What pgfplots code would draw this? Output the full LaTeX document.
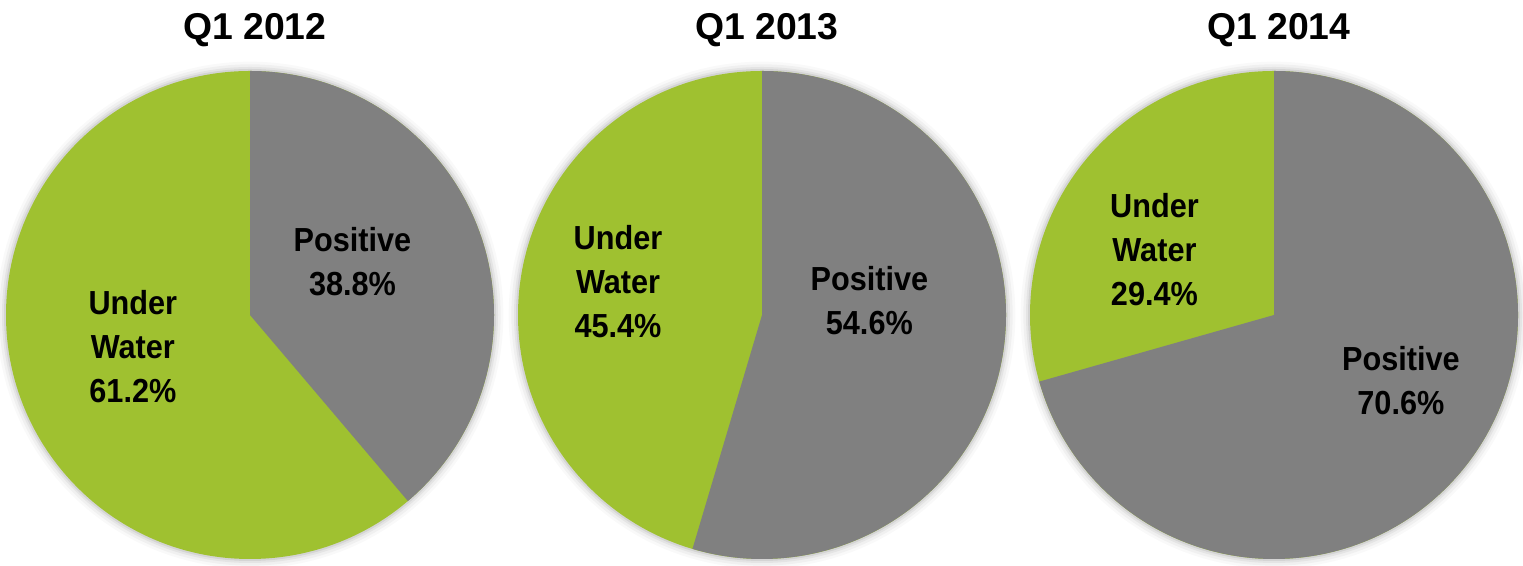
\documentclass[border=0pt]{standalone}
\usepackage{pgfplots}
\usepackage{pgfplotstable}
\pgfplotsset{compat=1.18}
\usepackage{fontspec}
\setmainfont{Liberation Sans}
\newfontfamily\labelfont[FakeStretch=0.92]{Liberation Sans}

\definecolor{uwgreen}{RGB}{159,193,48}
\definecolor{posgray}{RGB}{128,128,128}

% share in percent, label positions in axis units
\pgfplotstableread{
year pos uw plx ply ulx uly
2012 38.8 61.2 0.42 0.22 -0.48 -0.13
2013 54.6 45.4 0.44 0.06 -0.59 0.135
2014 70.6 29.4 0.52 -0.27 -0.49 0.27
}\piedata

\def\R{183pt}

\newcommand\pie[2]{%
  \pgfplotstablegetelem{#1}{year}\of\piedata \edef\yr{\pgfplotsretval}%
  \pgfplotstablegetelem{#1}{pos}\of\piedata \edef\pv{\pgfplotsretval}%
  \pgfplotstablegetelem{#1}{uw}\of\piedata \edef\uv{\pgfplotsretval}%
  \pgfplotstablegetelem{#1}{plx}\of\piedata \edef\plx{\pgfplotsretval}%
  \pgfplotstablegetelem{#1}{ply}\of\piedata \edef\ply{\pgfplotsretval}%
  \pgfplotstablegetelem{#1}{ulx}\of\piedata \edef\ulx{\pgfplotsretval}%
  \pgfplotstablegetelem{#1}{uly}\of\piedata \edef\uly{\pgfplotsretval}%
  \pgfmathsetmacro\ea{90-3.6*\pv}%
  \begin{axis}[at={(#2,188.25pt)}, anchor=center,
      width=366pt, height=366pt, scale only axis, hide axis, clip=false,
      xmin=-1, xmax=1, ymin=-1, ymax=1]
    \fill[black, opacity=.025] (axis cs:0,0) circle[radius=\R+7pt];
    \fill[black, opacity=.035] (axis cs:0,0) circle[radius=\R+5pt];
    \fill[black, opacity=.05] (axis cs:0,0) circle[radius=\R+3pt];
    \fill[black, opacity=.07] (axis cs:0,0) circle[radius=\R+1.5pt];
    \fill[uwgreen] (axis cs:0,0) circle[radius=\R];
    \fill[posgray] (axis cs:0,0) -- (axis cs:0,1)
      arc[start angle=90, end angle=\ea, radius=\R] -- cycle;
    \node[font=\labelfont\bfseries\fontsize{25}{33}\selectfont, align=center]
      at (axis cs:\plx,\ply) {Positive\\\pv\%};
    \node[font=\labelfont\bfseries\fontsize{25}{33}\selectfont, align=center]
      at (axis cs:\ulx,\uly) {Under\\Water\\\uv\%};
    \node[font=\bfseries\fontsize{28}{34}\selectfont, anchor=base]
      at (axis cs:0.02,1.131) {Q1 \yr};
  \end{axis}%
}

\begin{document}
\begin{tikzpicture}
  \path[use as bounding box] (0,0) rectangle (1142.25pt,424.5pt);
  \pie{0}{187.5pt}
  \pie{1}{571.5pt}
  \pie{2}{955.5pt}
\end{tikzpicture}
\end{document}
